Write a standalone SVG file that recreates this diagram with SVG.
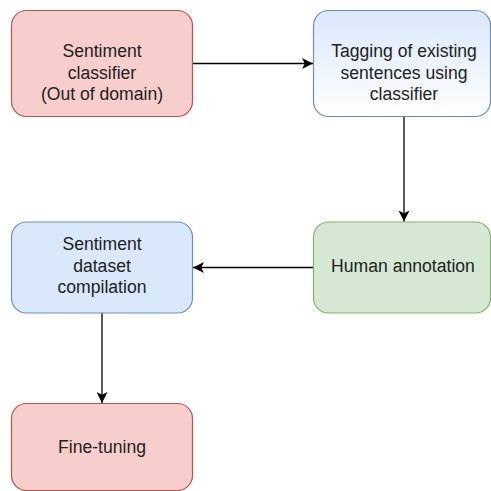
<svg xmlns="http://www.w3.org/2000/svg" width="491" height="491" viewBox="0 0 491 491">
<style>
.red{fill:#f8cecc;stroke:#b85450;stroke-width:1.2}
.blue{fill:#dae8fc;stroke:#6c8ebf;stroke-width:1.2}
.grad{fill:url(#g1);stroke:#6c8ebf;stroke-width:1.2}
.green{fill:#d5e8d4;stroke:#82b366;stroke-width:1.2}
text{font-family:"Liberation Sans",Arial,Helvetica,sans-serif;font-size:17.6px;fill:#222;text-anchor:middle}
.edge{stroke:#000;stroke-width:1.3;fill:none;marker-end:url(#arr)}
</style>
<defs>
<linearGradient id="g1" x1="0" y1="0" x2="0" y2="1">
<stop offset="0" stop-color="#dae8fc"/>
<stop offset="1" stop-color="#ffffff"/>
</linearGradient>
<marker id="arr" viewBox="0 0 10 10" refX="10" refY="5" markerWidth="11" markerHeight="11" markerUnits="userSpaceOnUse" orient="auto">
<path d="M0,0 L10,5 L0,10 L2.5,5 Z" fill="#000"/>
</marker>
</defs>
<g id="connectors">
<path class="edge" d="M192.5,63.5 H313"/>
<path class="edge" d="M404,116.5 V221.5"/>
<path class="edge" d="M313.5,267.5 H193"/>
<path class="edge" d="M102,313 V403"/>
</g>
<g id="n1">
<rect class="red" x="11.5" y="10.5" width="181" height="106" rx="15"/>
<text x="102" y="57">Sentiment</text>
<text x="102" y="78.5">classifier</text>
<text x="102" y="100">(Out of domain)</text>
</g>
<g id="n2">
<rect class="grad" x="313.5" y="10.5" width="177" height="106" rx="15"/>
<text x="404" y="57">Tagging of existing</text>
<text x="404" y="78.5">sentences using</text>
<text x="404" y="100">classifier</text>
</g>
<g id="n3">
<rect class="blue" x="11.5" y="222" width="181" height="91" rx="15"/>
<text x="102" y="250">Sentiment</text>
<text x="102" y="271.5">dataset</text>
<text x="102" y="293">compilation</text>
</g>
<g id="n4">
<rect class="green" x="313.5" y="222" width="177" height="91" rx="15"/>
<text x="403" y="272">Human annotation</text>
</g>
<g id="n5">
<rect class="red" x="11.5" y="403.5" width="181" height="87" rx="15"/>
<text x="102" y="453">Fine-tuning</text>
</g>
</svg>
